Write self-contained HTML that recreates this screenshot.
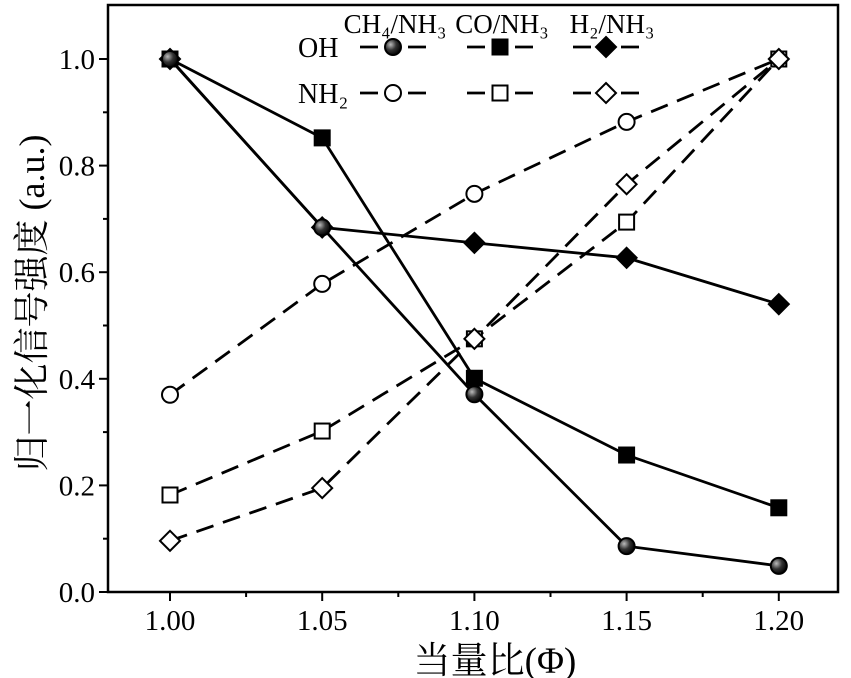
<!DOCTYPE html>
<html><head><meta charset="utf-8"><style>
html,body{margin:0;padding:0;background:#fff;width:851px;height:678px;overflow:hidden}
text{font-family:"Liberation Serif","Noto Serif CJK SC",serif;fill:#000}
</style></head><body>
<svg id="chart" width="851" height="678" xmlns="http://www.w3.org/2000/svg">
<defs><radialGradient id="ball" cx="0.35" cy="0.35" r="0.7"><stop offset="0" stop-color="#bbb"/><stop offset="0.5" stop-color="#333"/><stop offset="1" stop-color="#000"/></radialGradient></defs>
<g id="axes"></g><g id="series"></g><g id="legend"></g>
</svg>
<script>
const xCats=[1.00,1.05,1.10,1.15,1.20];
const xTickLabels=["1.00","1.05","1.10","1.15","1.20"];
const yTicks=[0,0.2,0.4,0.6,0.8,1.0];
const yTickLabels=["0.0","0.2","0.4","0.6","0.8","1.0"];
const ohCH4=[1.0,0.684,0.371,0.086,0.049];
const ohCO=[1.0,0.852,0.401,0.257,0.158];
const ohH2=[1.0,0.684,0.655,0.627,0.540];
const nh2CH4=[0.370,0.578,0.747,0.882,1.0];
const nh2CO=[0.182,0.302,0.475,0.694,1.0];
const nh2H2=[0.096,0.195,0.475,0.765,1.0];
const NS="http://www.w3.org/2000/svg";
const L=108,R=838,T=5,B=592;
const X=v=>170+(v-1.0)/0.05*152.2;
const Y=v=>592-v*533;
function mk(tag,attrs,parent){const e=document.createElementNS(NS,tag);for(const k in attrs)e.setAttribute(k,attrs[k]);parent.appendChild(e);return e;}
const ax=document.getElementById('axes'),sr=document.getElementById('series'),lg=document.getElementById('legend');
let f=mk('rect',{x:L,y:T,width:R-L,height:B-T,fill:'none',stroke:'#000','stroke-width':2.5},ax);

xCats.forEach((v,i)=>{
 let t=mk('line',{x1:X(v),x2:X(v),y1:B,y2:B+9,stroke:'#000','stroke-width':2},ax);
 
 if(i<xCats.length-1){let m=mk('line',{x1:X(v+0.025),x2:X(v+0.025),y1:B,y2:B+5,stroke:'#000','stroke-width':2},ax);}
 let tx=mk('text',{x:X(v),y:B+38,'text-anchor':'middle','font-size':29},ax);tx.textContent=xTickLabels[i];
 
});
yTicks.forEach((v,i)=>{
 let t=mk('line',{x1:L-9,x2:L,y1:Y(v),y2:Y(v),stroke:'#000','stroke-width':2},ax);
 
 if(i<yTicks.length-1){let m=mk('line',{x1:L-5,x2:L,y1:Y(v+0.1),y2:Y(v+0.1),stroke:'#000','stroke-width':2},ax);}
 let tx=mk('text',{x:L-13,y:Y(v)+10,'text-anchor':'end','font-size':29},ax);tx.textContent=yTickLabels[i];
 
});
let xt=mk('text',{x:495,y:673,'text-anchor':'middle','font-size':37},ax);xt.textContent='当量比(Φ)';

let yt=mk('text',{x:0,y:0,'text-anchor':'middle','font-size':36,transform:'translate(44,303) rotate(-90)'},ax);yt.textContent='归一化信号强度 (a.u.)';

function marker(type,filled,cx,cy,parent){
 let e;
 if(type==='circle')e=mk('circle',{cx,cy,r:8,fill:filled?'url(#ball)':'#fff',stroke:'#000','stroke-width':2},parent);
 else if(type==='square')e=mk('rect',{x:cx-7.5,y:cy-7.5,width:15,height:15,fill:filled?'#000':'#fff',stroke:'#000','stroke-width':2},parent);
 else e=mk('polygon',{points:`${cx},${cy-10} ${cx+10},${cy} ${cx},${cy+10} ${cx-10},${cy}`,fill:filled?'#000':'#fff',stroke:'#000','stroke-width':2},parent);
 return e;
}
const series=[[nh2CH4,'circle',false,true,'nh2-ch4'],[nh2CO,'square',false,true,'nh2-co'],[nh2H2,'diamond',false,true,'nh2-h2'],
[ohH2,'diamond',true,false,'oh-h2'],[ohCO,'square',true,false,'oh-co'],[ohCH4,'circle',true,false,'oh-ch4']];
series.forEach(([d,type,filled,dash,name])=>{
 let p=mk('polyline',{points:d.map((v,i)=>X(xCats[i])+','+Y(v)).join(' '),fill:'none',stroke:'#000','stroke-width':2.8,'stroke-dasharray':dash?'18,10':'none'},sr);
 
 d.forEach((v,i)=>{let m=marker(type,filled,X(xCats[i]),Y(v),sr);});
});
// legend
[['CH₄/NH₃',395],['CO/NH₃',502],['H₂/NH₃',612]].forEach(([t,x])=>{
 let e=mk('text',{x:x,y:33,'text-anchor':'middle','font-size':27},lg);e.textContent=t;
 
});
[['OH',47,true],['NH₂',93,false]].forEach(([t,y,filled])=>{
 let e=mk('text',{x:298,y:y+10,'font-size':28},lg);e.textContent=t;
 
 [['circle',393],['square',500],['diamond',606]].forEach(([type,x])=>{
  let a=mk('line',{x1:x-33,x2:x-15,y1:y,y2:y,stroke:'#000','stroke-width':2.8},lg);
  let b=mk('line',{x1:x+15,x2:x+33,y1:y,y2:y,stroke:'#000','stroke-width':2.8},lg);
  let m=marker(type,filled,x,y,lg);
 });
});
</script>
</body></html>
